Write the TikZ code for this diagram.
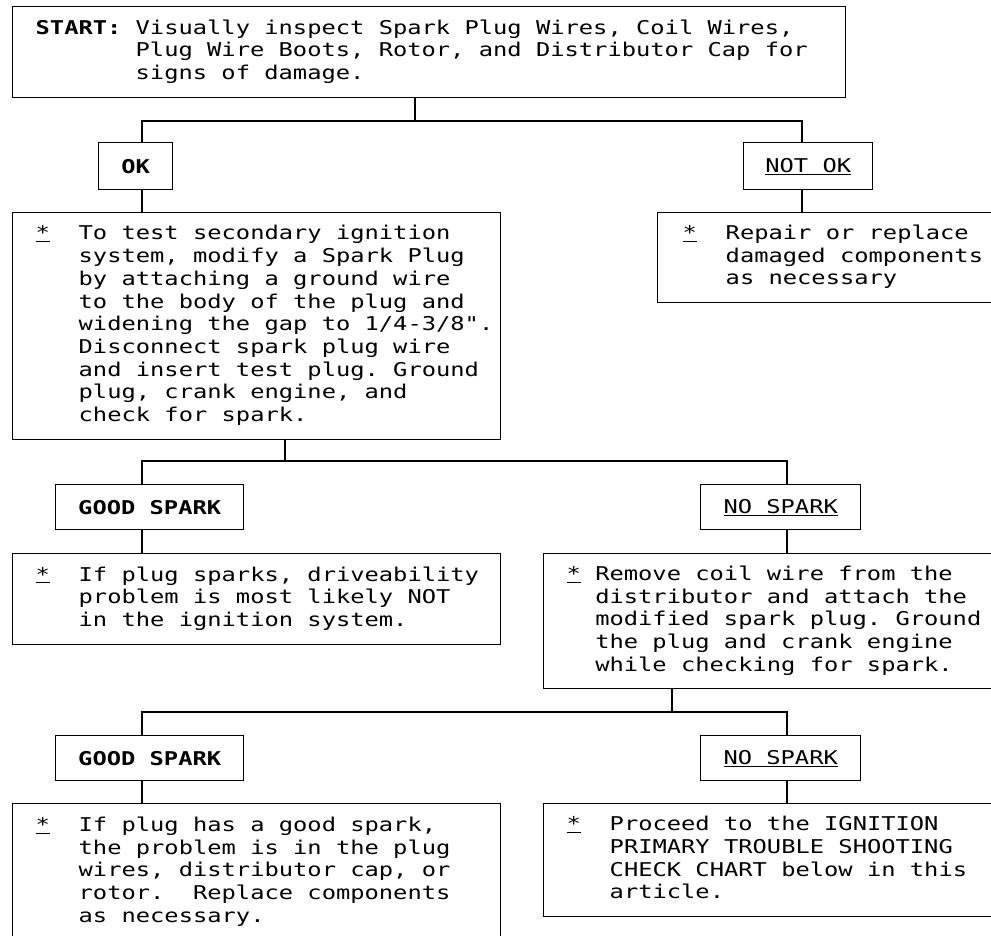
\documentclass[tikz,border=0pt]{standalone}
\usepackage{fontspec}
\usepackage{tikz}
\newfontfamily\chartfont[FakeStretch=1.25]{DejaVu Sans Mono}
\newcommand{\fixspace}{\spaceskip=14.3pt\relax\xspaceskip=14.3pt\relax}
\newcommand{\chartsize}{\fontsize{19}{22.7}\selectfont\frenchspacing\fixspace}
\newcommand{\boldtag}[1]{{\bfseries\fixspace #1}}
\newcommand{\ustar}{\underline{*}}
\newcommand{\lines}[1]{\fixspace\begin{tabular}[t]{@{}l@{}}#1\end{tabular}}

\begin{document}
\begin{tikzpicture}[x=1pt,y=-1pt]
            \useasboundingbox[fill=white] (0,0) rectangle (991,936);
            \clip (0,0) rectangle (991,936);

            \begin{scope}[every node/.style={draw,line width=1.4pt,fill=white,anchor=north west,
                          inner xsep=23pt,inner ysep=0pt,align=left,font=\chartfont\chartsize}]
                \node[minimum width=833pt,minimum height=91pt,text width=787pt] (start) at (12,6)
                    {\makebox[100pt][l]{\boldtag{START:}}\lines{Visually inspect Spark Plug Wires, Coil Wires,\\
                     Plug Wire Boots, Rotor, and Distributor Cap for\\ signs of damage.}};
                \node[minimum width=488pt,minimum height=227pt,text width=442pt] (test) at (12,212)
                    {\makebox[43pt][l]{\ustar}\lines{To test secondary ignition\\ system, modify a Spark Plug\\
                     by attaching a ground wire\\ to the body of the plug and\\ widening the gap to 1/4-3/8".\\
                     Disconnect spark plug wire\\ and insert test plug. Ground\\ plug, crank engine, and\\
                     check for spark.}};
                \node[minimum width=400pt,minimum height=90pt,text width=350pt,inner xsep=25pt] (repair) at (657,212)
                    {\makebox[43pt][l]{\ustar}\lines{Repair or replace\\ damaged components\\ as necessary}};
                \node[minimum width=488pt,minimum height=91pt,text width=442pt] (notign) at (12,553)
                    {\makebox[43pt][l]{\ustar}\lines{If plug sparks, driveability\\ problem is most likely NOT\\
                     in the ignition system.}};
                \node[minimum width=500pt,minimum height=135pt,text width=454pt] (coil) at (543,553)
                    {\makebox[28.6pt][l]{\ustar}\lines{Remove coil wire from the\\ distributor and attach the\\
                     modified spark plug. Ground\\ the plug and crank engine\\ while checking for spark.}};
                \node[minimum width=488pt,minimum height=137pt,text width=442pt] (wires) at (12,803)
                    {\makebox[43pt][l]{\ustar}\lines{If plug has a good spark,\\ the problem is in the plug\\
                     wires, distributor cap, or\\ rotor.\ \ Replace components\\ as necessary.}};
                \node[minimum width=500pt,minimum height=113pt,text width=454pt] (primary) at (543,803)
                    {\makebox[43pt][l]{\ustar}\lines{Proceed to the IGNITION\\ PRIMARY TROUBLE SHOOTING\\
                     CHECK CHART below in this\\ article.}};
            \end{scope}

            \begin{scope}[every node/.style={draw,line width=1.4pt,fill=white,anchor=north west,
                          inner sep=0pt,font=\chartfont\chartsize}]
                \node[minimum width=74pt,minimum height=47pt] (ok) at (98,142) {\boldtag{OK}};
                \node[minimum width=129pt,minimum height=47pt] (notok) at (743,142) {\underline{NOT OK}};
                \node[minimum width=188pt,minimum height=45pt] (good1) at (55,484) {\boldtag{GOOD SPARK}};
                \node[minimum width=160pt,minimum height=45pt] (none1) at (700,484) {\underline{NO SPARK}};
                \node[minimum width=188pt,minimum height=45pt] (good2) at (55,735) {\boldtag{GOOD SPARK}};
                \node[minimum width=160pt,minimum height=45pt] (none2) at (700,735) {\underline{NO SPARK}};
            \end{scope}

            \coordinate (j1) at (415,121);
            \coordinate (l1) at (142,121);
            \coordinate (r1) at (802,121);
            \coordinate (j2) at (285,461);
            \coordinate (l2) at (142,461);
            \coordinate (r2) at (787,461);
            \coordinate (j3) at (672,712);
            \coordinate (l3) at (142,712);
            \coordinate (r3) at (787,712);

            \begin{scope}[line width=1.4pt]
                \draw (start.south -| j1) -- (j1);
                \draw (ok.north -| l1) -- (l1) -- (r1) -- (notok.north -| r1);
                \draw (ok.south -| l1) -- (test.north -| l1);
                \draw (notok.south -| r1) -- (repair.north -| r1);
                \draw (test.south -| j2) -- (j2);
                \draw (good1.north -| l2) -- (l2) -- (r2) -- (none1.north -| r2);
                \draw (good1.south -| l2) -- (notign.north -| l2);
                \draw (none1.south -| r2) -- (coil.north -| r2);
                \draw (coil.south -| j3) -- (j3);
                \draw (good2.north -| l3) -- (l3) -- (r3) -- (none2.north -| r3);
                \draw (good2.south -| l3) -- (wires.north -| l3);
                \draw (none2.south -| r3) -- (primary.north -| r3);
            \end{scope}
\end{tikzpicture}
\end{document}
